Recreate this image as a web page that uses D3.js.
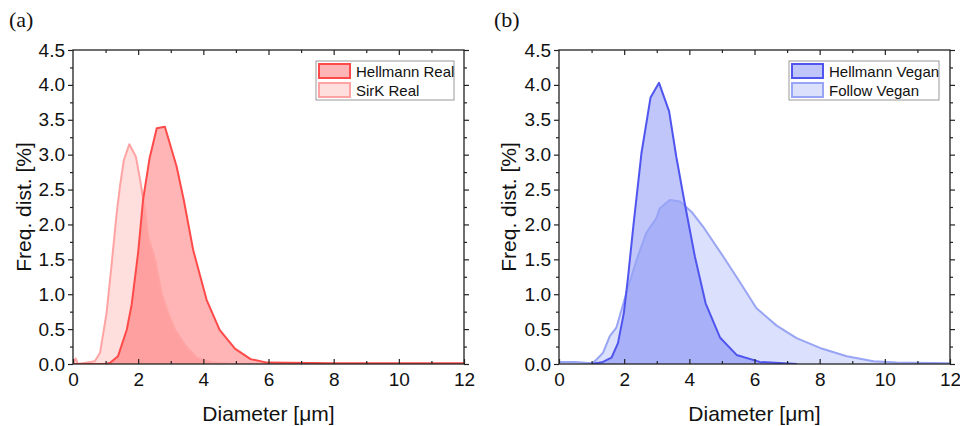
<!DOCTYPE html>
<html>
<head>
<meta charset="utf-8">
<script src="https://cdn.jsdelivr.net/npm/d3@7"></script>
<style>
  body { margin: 0; background: #fff; }
  svg { display: block; font-family: "Liberation Sans", Arial, sans-serif; }
  .tick text { font-size: 19px; fill: #111; }
  .tick line { stroke: #222; stroke-width: 1.2; }
</style>
</head>
<body>
<div id="chart"></div>
<script>
// diameter [um] / frequency [%] pairs
const hellmannRealX = [0, 1.0, 1.15, 1.38, 1.65, 1.8, 2.0, 2.15, 2.35, 2.57, 2.82, 3.18, 3.4, 3.69, 4.1, 4.5, 4.97, 5.45, 5.95, 8, 12];
const hellmannRealY = [0, 0, 0.02, 0.11, 0.49, 0.85, 1.6, 2.35, 2.95, 3.38, 3.40, 2.83, 2.35, 1.63, 0.92, 0.49, 0.22, 0.07, 0.02, 0.01, 0.01];

const sirkRealX = [0, 0.08, 0.15, 0.67, 0.83, 1.03, 1.19, 1.34, 1.44, 1.56, 1.73, 1.93, 2.06, 2.21, 2.31, 2.52, 2.72, 2.92, 3.13, 3.44, 3.79, 4.3, 5, 12];
const sirkRealY = [0, 0.08, 0, 0.04, 0.16, 0.73, 1.45, 2.16, 2.54, 2.92, 3.15, 2.97, 2.64, 2.2, 1.82, 1.49, 1.01, 0.73, 0.49, 0.27, 0.09, 0.02, 0, 0];

const hellmannVeganX = [1.0, 1.35, 1.61, 1.81, 1.99, 2.12, 2.28, 2.53, 2.81, 3.07, 3.38, 3.6, 3.86, 4.17, 4.5, 4.94, 5.45, 6.16, 7.3];
const hellmannVeganY = [0, 0.03, 0.09, 0.3, 0.73, 1.25, 1.97, 3.02, 3.82, 4.03, 3.62, 2.97, 2.3, 1.54, 0.87, 0.38, 0.13, 0.03, 0];

const followVeganX = [0, 0.5, 1.0, 1.1, 1.35, 1.56, 1.76, 2.07, 2.38, 2.68, 2.99, 3.09, 3.4, 3.71, 4.07, 4.42, 5.04, 5.5, 6.06, 6.68, 7.29, 8.01, 8.83, 9.65, 10.36, 12];
const followVeganY = [0.03, 0.03, 0.01, 0.04, 0.16, 0.4, 0.52, 1.02, 1.49, 1.88, 2.09, 2.23, 2.35, 2.33, 2.18, 1.97, 1.54, 1.21, 0.8, 0.55, 0.37, 0.23, 0.11, 0.04, 0.02, 0.01];

const xTicks = [0, 2, 4, 6, 8, 10, 12];
const yTicks = [0, 0.5, 1.0, 1.5, 2.0, 2.5, 3.0, 3.5, 4.0, 4.5];

const zip = (xs, ys) => xs.map((v, i) => [v, ys[i]]);

const panels = [
    {
        tag: '(a)', left: 73, tagX: 9, titleX: 31,
        series: [
            { name: 'Hellmann Real', data: zip(hellmannRealX, hellmannRealY), fill: '#ff1a1a', fillOpacity: 0.32, stroke: '#ff4a4a' },
            { name: 'SirK Real', data: zip(sirkRealX, sirkRealY), fill: '#ff3030', fillOpacity: 0.16, stroke: '#ffa3a3' }
        ],
        legend: { x: 316, w: 138 }
    },
    {
        tag: '(b)', left: 559, tagX: 494, titleX: 516,
        series: [
            { name: 'Hellmann Vegan', data: zip(hellmannVeganX, hellmannVeganY), fill: '#3c4cf0', fillOpacity: 0.32, stroke: '#4f55ee' },
            { name: 'Follow Vegan', data: zip(followVeganX, followVeganY), fill: '#4a62f0', fillOpacity: 0.2, stroke: '#98a4f4' }
        ],
        legend: { x: 789, w: 150 }
    }
];

const width = 960, height = 426;
const plotTop = 50, plotBottom = 364, plotW = 391;

const svg = d3.select('#chart').append('svg')
    .attr('width', width)
    .attr('height', height);

panels.forEach((p, pi) => {
    const x = d3.scaleLinear().domain([0, 12]).range([p.left, p.left + plotW]);
    const y = d3.scaleLinear().domain([0, 4.5]).range([plotBottom, plotTop]);
    const g = svg.append('g');

    const clipId = 'clip' + pi;
    g.append('clipPath').attr('id', clipId)
        .append('rect')
        .attr('x', p.left).attr('y', plotTop)
        .attr('width', plotW).attr('height', plotBottom - plotTop);

    const area = d3.area().x(d => x(d[0])).y0(y(0)).y1(d => y(d[1]));
    const line = d3.line().x(d => x(d[0])).y(d => y(d[1]));

    const plot = g.append('g').attr('clip-path', `url(#${clipId})`);
    p.series.forEach(s => {
        plot.append('path')
            .attr('d', area(s.data))
            .attr('fill', s.fill)
            .attr('fill-opacity', s.fillOpacity);
    });
    p.series.slice().reverse().forEach(s => {
        plot.append('path')
            .attr('d', line(s.data))
            .attr('fill', 'none')
            .attr('stroke', s.stroke)
            .attr('stroke-width', 2)
            .attr('stroke-linejoin', 'round');
    });

    // axes: minor ticks first, then major with labels
    const minorX = d3.range(1, 12, 2);
    const minorY = d3.range(0.25, 4.5, 0.5);

    g.append('g').attr('transform', `translate(0,${plotBottom})`)
        .call(d3.axisBottom(x).tickValues(minorX).tickSize(-3).tickFormat(''))
        .call(a => a.select('.domain').remove());
    g.append('g').attr('transform', `translate(0,${plotBottom})`)
        .call(d3.axisBottom(x).tickValues(xTicks).tickSize(-5).tickPadding(9).tickFormat(d3.format('d')))
        .call(a => a.select('.domain').remove())
        .call(a => a.selectAll('text').attr('font-family', null).attr('font-size', null));

    g.append('g').attr('transform', `translate(0,${plotTop})`)
        .call(d3.axisTop(x).tickValues(minorX).tickSize(-3).tickFormat(''))
        .call(a => a.select('.domain').remove());
    g.append('g').attr('transform', `translate(0,${plotTop})`)
        .call(d3.axisTop(x).tickValues(xTicks.slice(1, -1)).tickSize(-5).tickFormat(''))
        .call(a => a.select('.domain').remove());

    g.append('g').attr('transform', `translate(${p.left},0)`)
        .call(d3.axisLeft(y).tickValues(minorY).tickSize(3).tickFormat(''))
        .call(a => a.select('.domain').remove());
    g.append('g').attr('transform', `translate(${p.left},0)`)
        .call(d3.axisLeft(y).tickValues(yTicks).tickSize(5).tickPadding(3).tickFormat(d3.format('.1f')))
        .call(a => a.select('.domain').remove())
        .call(a => a.selectAll('text').attr('font-family', null).attr('font-size', null));

    g.append('g').attr('transform', `translate(${p.left + plotW},0)`)
        .call(d3.axisRight(y).tickValues(minorY).tickSize(3).tickFormat(''))
        .call(a => a.select('.domain').remove());
    g.append('g').attr('transform', `translate(${p.left + plotW},0)`)
        .call(d3.axisRight(y).tickValues(yTicks).tickSize(5).tickFormat(''))
        .call(a => a.select('.domain').remove());

    g.append('rect')
        .attr('x', p.left).attr('y', plotTop)
        .attr('width', plotW).attr('height', plotBottom - plotTop)
        .attr('fill', 'none')
        .attr('stroke', '#222')
        .attr('stroke-width', 1.3);

    // titles
    g.append('text')
        .attr('x', p.left + plotW / 2)
        .attr('y', 421)
        .attr('text-anchor', 'middle')
        .style('font-size', '21px')
        .attr('fill', '#111')
        .text('Diameter [μm]');

    g.append('text')
        .attr('transform', `translate(${p.titleX},${(plotTop + plotBottom) / 2}) rotate(-90)`)
        .attr('text-anchor', 'middle')
        .style('font-size', '21px')
        .attr('fill', '#111')
        .text('Freq. dist. [%]');

    g.append('text')
        .attr('x', p.tagX)
        .attr('y', 27)
        .style('font-family', '"Liberation Serif", "Times New Roman", serif')
        .style('font-size', '22px')
        .attr('fill', '#111')
        .text(p.tag);

    // legend
    const lg = g.append('g');
    lg.append('rect')
        .attr('x', p.legend.x).attr('y', 61)
        .attr('width', p.legend.w).attr('height', 39)
        .attr('fill', '#fff')
        .attr('stroke', '#999')
        .attr('stroke-width', 1);
    p.series.forEach((s, i) => {
        const ry = 64 + i * 19;
        lg.append('rect')
            .attr('x', p.legend.x + 3).attr('y', ry)
            .attr('width', 31).attr('height', 14)
            .attr('fill', s.fill)
            .attr('fill-opacity', s.fillOpacity)
            .attr('stroke', s.stroke)
            .attr('stroke-width', 2);
        lg.append('text')
            .attr('x', p.legend.x + 40)
            .attr('y', ry + 13)
            .style('font-size', '15px')
            .attr('fill', '#111')
            .text(s.name);
    });
});
</script>
</body>
</html>
